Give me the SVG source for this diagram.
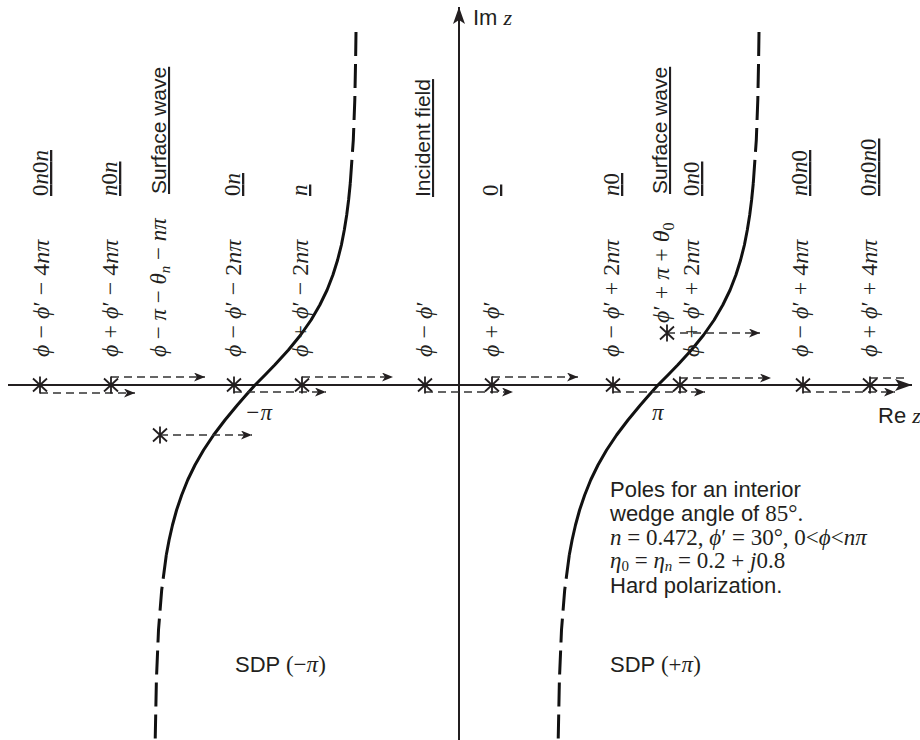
<svg xmlns="http://www.w3.org/2000/svg" xmlns:xlink="http://www.w3.org/1999/xlink" width="920" height="740" viewBox="0 0 920 740">
<style>
.sans{font-family:"Liberation Sans",Arial,sans-serif;fill:#231f20}
.serif{font-family:"Liberation Serif","Times New Roman",serif;fill:#231f20}
.i{font-style:italic}
.lab{font-size:21px}
.f{font-size:23px}
.fm{font-size:24px}
.t{font-size:22px}
.u{text-decoration:underline}
.axis{stroke:#231f20;stroke-width:2;fill:none}
.curve{stroke:#111;stroke-width:3;fill:none;stroke-linejoin:round}
.dcurve{stroke:#111;stroke-width:3;fill:none;stroke-dasharray:24 8}
.conn{stroke:#333;stroke-width:1.6;fill:none;stroke-dasharray:8 5}
.star{stroke:#231f20;stroke-width:1.8;fill:none}
</style>
<defs>
<marker id="ah" markerUnits="userSpaceOnUse" markerWidth="12" markerHeight="10" refX="11" refY="4.5" orient="auto">
<path d="M0,0 L11,4.5 L0,9 L3,4.5 z" fill="#231f20"/>
</marker>
<marker id="big" markerUnits="userSpaceOnUse" markerWidth="18" markerHeight="14" refX="17" refY="6" orient="auto">
<path d="M0,0 L17,6 L0,12 L4,6 z" fill="#231f20"/>
</marker>
<g id="pole"><path class="star" d="M0,-8.5 V8.5 M-7,-6.5 L7,6.5 M-7,6.5 L7,-6.5"/></g>
</defs>
<rect width="920" height="740" fill="#fff"/>

<g id="axes">
<line class="axis" x1="8" y1="385" x2="912" y2="385" marker-end="url(#big)"/>
<line class="axis" x1="459" y1="740" x2="459" y2="7" marker-end="url(#big)"/>
<text class="sans t" x="473" y="25">Im <tspan class="serif i">z</tspan></text>
<text class="sans t" x="878" y="423">Re <tspan class="serif i">z</tspan></text>
<text class="serif f i" x="245" y="420">−π</text>
<text class="serif f i" x="652" y="420">π</text>
</g>

<g id="sdp-minus">
<path class="dcurve" d="M356,32 L355.6,60 L354.8,100 L353.3,140 L350.3,183"/>
<path class="curve" d="M350.3,183 L348.6,200 L346.7,215 L344.3,230 L341.4,245 L337.6,260 L332.9,275 L327.1,290 L319.8,305 L311.1,320 L300.6,335 L288.4,350 L274.7,365 L265,375 L255,385 L246.1,395 L237.4,405 L225,420 L213.6,435 L203.6,450 L195,465 L187.7,480 L181.7,495 L176.6,510 L172.5,525 L169.1,540 L166.3,555"/>
<path class="dcurve" d="M166.3,555 L161.7,590 L158.5,630 L156.4,680 L155.2,740"/>
<text class="sans t" x="235" y="672">SDP <tspan class="serif f">(−<tspan class="i">π</tspan>)</tspan></text>
</g>

<g id="sdp-plus">
<path class="dcurve" d="M759,32 L758.6,60 L757.8,100 L756.3,140 L753.3,183"/>
<path class="curve" d="M753.3,183 L751.6,200 L749.7,215 L747.3,230 L744.4,245 L740.6,260 L735.9,275 L730.1,290 L722.8,305 L714.1,320 L703.6,335 L691.4,350 L677.7,365 L668,375 L658,385 L649.1,395 L640.4,405 L628,420 L616.6,435 L606.6,450 L598,465 L590.7,480 L584.7,495 L579.6,510 L575.5,525 L572.1,540 L569.3,555"/>
<path class="dcurve" d="M569.3,555 L564.7,590 L561.5,630 L559.4,680 L558.2,740"/>
<text class="sans t" x="610" y="672">SDP <tspan class="serif f">(+<tspan class="i">π</tspan>)</tspan></text>
</g>

<g id="connectors">
<path class="conn" d="M40,393 H135" marker-end="url(#ah)"/>
<path class="conn" d="M111,377 H205" marker-end="url(#ah)"/>
<path class="conn" d="M160,435 H252" marker-end="url(#ah)"/>
<path class="conn" d="M234,392 H326" marker-end="url(#ah)"/>
<path class="conn" d="M302,377 H393" marker-end="url(#ah)"/>
<path class="conn" d="M425,392 H513" marker-end="url(#ah)"/>
<path class="conn" d="M492,377 H578" marker-end="url(#ah)"/>
<path class="conn" d="M613,392 H705" marker-end="url(#ah)"/>
<path class="conn" d="M667,333 H760" marker-end="url(#ah)"/>
<path class="conn" d="M680,378 H771" marker-end="url(#ah)"/>
<path class="conn" d="M803,392 H895" marker-end="url(#ah)"/>
<path class="conn" d="M870,378 H904"/>
</g>

<g id="pole-1">
<use xlink:href="#pole" x="40" y="385"/>
<text class="serif fm" transform="translate(49,357) rotate(-90)"><tspan class="i">ϕ</tspan> − <tspan class="i">ϕ</tspan>′ − 4<tspan class="i">nπ</tspan></text>
<text class="serif f u" transform="translate(48,196) rotate(-90)">0<tspan class="i">n</tspan>0<tspan class="i">n</tspan></text>
</g>
<g id="pole-2">
<use xlink:href="#pole" x="111" y="385"/>
<text class="serif fm" transform="translate(118,357) rotate(-90)"><tspan class="i">ϕ</tspan> + <tspan class="i">ϕ</tspan>′ − 4<tspan class="i">nπ</tspan></text>
<text class="serif f u" transform="translate(117,196) rotate(-90)"><tspan class="i">n</tspan>0<tspan class="i">n</tspan></text>
</g>
<g id="pole-3">
<use xlink:href="#pole" x="160" y="435"/>
<text class="serif f" transform="translate(166,357) rotate(-90)"><tspan class="i">ϕ</tspan> − <tspan class="i">π</tspan> − <tspan class="i">θ</tspan><tspan class="i" font-size="15" dy="4">n</tspan><tspan dy="-4"> − </tspan><tspan class="i">nπ</tspan></text>
<text class="sans lab u" transform="translate(166,194) rotate(-90)">Surface wave</text>
</g>
<g id="pole-4">
<use xlink:href="#pole" x="234" y="385"/>
<text class="serif fm" transform="translate(241,357) rotate(-90)"><tspan class="i">ϕ</tspan> − <tspan class="i">ϕ</tspan>′ − 2<tspan class="i">nπ</tspan></text>
<text class="serif f u" transform="translate(240,196) rotate(-90)">0<tspan class="i">n</tspan></text>
</g>
<g id="pole-5">
<use xlink:href="#pole" x="302" y="385"/>
<text class="serif fm" transform="translate(308,357) rotate(-90)"><tspan class="i">ϕ</tspan> + <tspan class="i">ϕ</tspan>′ − 2<tspan class="i">nπ</tspan></text>
<text class="serif f u" transform="translate(307,196) rotate(-90)"><tspan class="i">n</tspan></text>
</g>
<g id="pole-6">
<use xlink:href="#pole" x="425" y="385"/>
<text class="serif fm" transform="translate(432,357) rotate(-90)"><tspan class="i">ϕ</tspan> − <tspan class="i">ϕ</tspan>′</text>
<text class="sans lab u" transform="translate(430,197) rotate(-90)">Incident field</text>
</g>
<g id="pole-7">
<use xlink:href="#pole" x="492" y="385"/>
<text class="serif fm" transform="translate(499,357) rotate(-90)"><tspan class="i">ϕ</tspan> + <tspan class="i">ϕ</tspan>′</text>
<text class="serif f u" transform="translate(498,196) rotate(-90)">0</text>
</g>
<g id="pole-8">
<use xlink:href="#pole" x="613" y="385"/>
<text class="serif fm" transform="translate(619,357) rotate(-90)"><tspan class="i">ϕ</tspan> − <tspan class="i">ϕ</tspan>′ + 2<tspan class="i">nπ</tspan></text>
<text class="serif f u" transform="translate(619,196) rotate(-90)"><tspan class="i">n</tspan>0</text>
</g>
<g id="pole-9">
<use xlink:href="#pole" x="667" y="333"/>
<text class="serif fm" transform="translate(669,323) rotate(-90)"><tspan class="i">ϕ</tspan>′ + <tspan class="i">π</tspan> + <tspan class="i">θ</tspan><tspan font-size="16" dy="5">0</tspan></text>
<text class="sans lab u" transform="translate(667,194) rotate(-90)">Surface wave</text>
</g>
<g id="pole-10">
<use xlink:href="#pole" x="680" y="385"/>
<text class="serif fm" transform="translate(699,357) rotate(-90)"><tspan class="i">ϕ</tspan> + <tspan class="i">ϕ</tspan>′ + 2<tspan class="i">nπ</tspan></text>
<text class="serif f u" transform="translate(699,196) rotate(-90)">0<tspan class="i">n</tspan>0</text>
</g>
<g id="pole-11">
<use xlink:href="#pole" x="803" y="385"/>
<text class="serif fm" transform="translate(808,357) rotate(-90)"><tspan class="i">ϕ</tspan> − <tspan class="i">ϕ</tspan>′ + 4<tspan class="i">nπ</tspan></text>
<text class="serif f u" transform="translate(807,196) rotate(-90)"><tspan class="i">n</tspan>0<tspan class="i">n</tspan>0</text>
</g>
<g id="pole-12">
<use xlink:href="#pole" x="870" y="385"/>
<text class="serif fm" transform="translate(877,357) rotate(-90)"><tspan class="i">ϕ</tspan> + <tspan class="i">ϕ</tspan>′ + 4<tspan class="i">nπ</tspan></text>
<text class="serif f u" transform="translate(876,196) rotate(-90)">0<tspan class="i">n</tspan>0<tspan class="i">n</tspan>0</text>
</g>

<g id="caption">
<text class="sans t" x="610" y="497">Poles for an interior</text>
<text class="sans t" x="610" y="521">wedge angle of <tspan class="serif f">85°.</tspan></text>
<text class="serif f" x="610" y="545"><tspan class="i">n</tspan> = 0.472, <tspan class="i">ϕ</tspan>′ = 30°, 0&lt;<tspan class="i">ϕ</tspan>&lt;<tspan class="i">nπ</tspan></text>
<text class="serif f" x="610" y="568"><tspan class="i">η</tspan><tspan font-size="15" dy="3">0</tspan><tspan dy="-3"> = </tspan><tspan class="i">η</tspan><tspan class="i" font-size="15" dy="3">n</tspan><tspan dy="-3"> = 0.2 + </tspan><tspan class="i">j</tspan>0.8</text>
<text class="sans t" x="610" y="593">Hard polarization.</text>
</g>
</svg>
